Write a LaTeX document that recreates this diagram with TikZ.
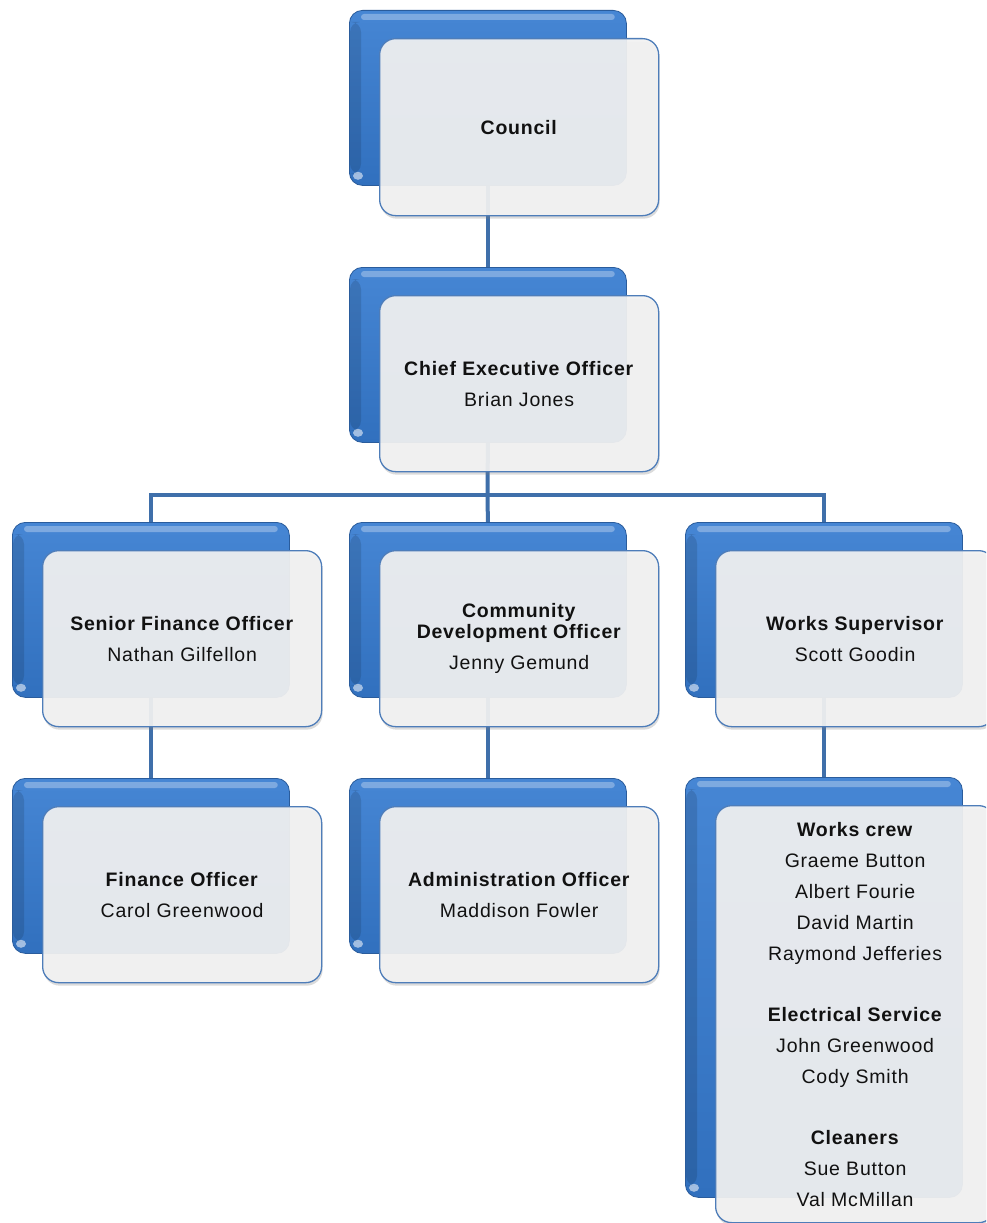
\documentclass[tikz,border=0pt]{standalone}
\usepackage{fontspec}
\setmainfont{Liberation Sans}[LetterSpace=4]
\usetikzlibrary{shadows,backgrounds}
\definecolor{lineblue}{HTML}{3F6FAA}
\definecolor{backtop}{HTML}{4686D4}
\definecolor{backbot}{HTML}{3170BE}
\definecolor{backedge}{HTML}{2A5C9C}
\definecolor{frontfill}{HTML}{F2F2F2}
\definecolor{frontedge}{HTML}{4E7DB9}
\definecolor{txt}{HTML}{111111}
\tikzset{
  backbox/.style={rectangle, rounded corners=13pt, draw=backedge, line width=0.8pt,
    top color=backtop, bottom color=backbot, minimum width=277pt, inner sep=0pt, anchor=north west},
  frontbox/.style={rectangle, rounded corners=16pt, draw=frontedge, line width=1.3pt,
    fill=frontfill, fill opacity=0.92, text opacity=1, minimum width=279pt, inner sep=0pt,
    anchor=north west, align=center, font=\fontsize{19.5}{31}\selectfont, text=txt,
    drop shadow={opacity=0.28, shadow xshift=1pt, shadow yshift=-3pt}},
  conn/.style={draw=lineblue, line width=4pt, line join=miter},
  gloss/.style={fill=white, opacity=0.3, rounded corners=3pt},
  edgeshade/.style={fill=black, opacity=0.12, rounded corners=10pt},
}
\newcommand{\orgunit}[6]{%
  % #1 name, #2 front left x, #3 front top y, #4 front height, #5 back height, #6 text
  \node[backbox, minimum height=#5pt] (#1B) at (#2-30,#3-28) {};
  \fill[edgeshade] ([xshift=1pt,yshift=-12pt]#1B.north west) rectangle ([xshift=12pt,yshift=12pt]#1B.south west);
  \fill[gloss] ([xshift=12pt,yshift=-4pt]#1B.north west) rectangle ([xshift=-12pt,yshift=-10pt]#1B.north east);
  \fill[white, opacity=0.55] ([xshift=9pt,yshift=10pt]#1B.south west) circle[x radius=5pt, y radius=4pt];
  \node[frontbox, minimum height=#4pt] (#1F) at (#2,#3) {#6};
}
\begin{document}
\begin{tikzpicture}[x=1pt,y=-1pt]
  \useasboundingbox (0,0) rectangle (986,1223);
  \clip (0,0) rectangle (986,1223);
  \coordinate (bus) at (487.5,495);

  \orgunit{council}{379}{38}{177}{175}{\textbf{Council}}
  \orgunit{ceo}{379}{295}{176}{175}{\textbf{Chief Executive Officer}\\Brian Jones}
  \orgunit{sfo}{42}{550}{176}{175}{\textbf{Senior Finance Officer}\\Nathan Gilfellon}
  \orgunit{cdo}{379}{550}{176}{175}{\textbf{Community}\\[-10pt]\textbf{Development Officer}\\Jenny Gemund}
  \orgunit{ws}{715}{550}{176}{175}{\textbf{Works Supervisor}\\Scott Goodin}
  \orgunit{fo}{42}{806}{176}{175}{\textbf{Finance Officer}\\Carol Greenwood}
  \orgunit{ao}{379}{806}{176}{175}{\textbf{Administration Officer}\\Maddison Fowler}
  \orgunit{crew}{715}{805}{417}{420}{\textbf{Works crew}\\Graeme Button\\Albert Fourie\\David Martin\\Raymond Jefferies\\[30pt]\textbf{Electrical Service}\\John Greenwood\\Cody Smith\\[30pt]\textbf{Cleaners}\\Sue Button\\Val McMillan}

  \begin{scope}[on background layer]
    \fill[white] (0,0) rectangle (986,1223);
    \draw[conn] (councilB.south) -- (ceoB.north);
    \draw[conn] (ceoB.south) -- (bus);
    \draw[conn] (sfoB.north) |- (bus) -| (wsB.north);
    \draw[conn] (cdoB.north) -- (bus);
    \draw[conn] (sfoB.south) -- (foB.north);
    \draw[conn] (cdoB.south) -- (aoB.north);
    \draw[conn] (wsB.south) -- (crewB.north);
  \end{scope}
\end{tikzpicture}
\end{document}
